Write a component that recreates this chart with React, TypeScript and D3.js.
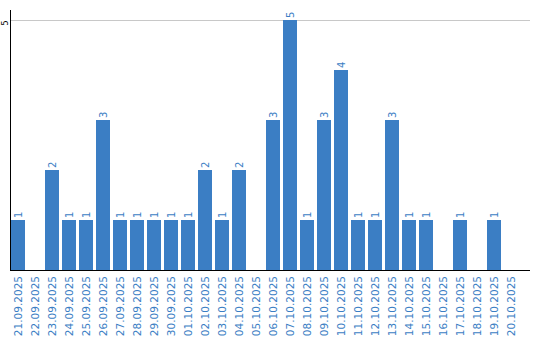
import React from "react";
import * as d3 from "d3";

const dates = [
  "21.09.2025","22.09.2025","23.09.2025","24.09.2025","25.09.2025","26.09.2025",
  "27.09.2025","28.09.2025","29.09.2025","30.09.2025","01.10.2025","02.10.2025",
  "03.10.2025","04.10.2025","05.10.2025","06.10.2025","07.10.2025","08.10.2025",
  "09.10.2025","10.10.2025","11.10.2025","12.10.2025","13.10.2025","14.10.2025",
  "15.10.2025","16.10.2025","17.10.2025","18.10.2025","19.10.2025","20.10.2025",
];
const counts = [1,0,2,1,1,3,1,1,1,1,1,2,1,2,0,3,5,1,3,4,1,1,3,1,1,0,1,0,1,0];
const yTicks = [5];

const W = 540, H = 340;
const left = 11, baseY = 270, topY = 20;
const blue = "#3b7ec4";
const font = "'DejaVu Sans', Verdana, sans-serif";

export default function App() {
  const x = d3.scaleBand<string>().domain(dates).range([left, left + 30 * 17 - 3]).paddingInner(3 / 17).paddingOuter(0);
  const y = d3.scaleLinear().domain([0, 5]).range([baseY, topY]);
  return (
    <svg width={W} height={H} style={{ position: "absolute", left: 0, top: 0 }}>
      {yTicks.map((t) => (
        <g key={t}>
          <line x1={left} x2={530} y1={y(t) + 0.5} y2={y(t) + 0.5} stroke="#c8c8c8" strokeWidth={1} shapeRendering="crispEdges" />
          <text transform={`translate(7.5,${y(t) + 0.5}) rotate(-90)`} textAnchor="end" fontSize={8} fontFamily={font} fill="#000">{t}</text>
        </g>
      ))}
      {dates.map((d, i) => {
        const v = counts[i];
        const bx = x(d)!;
        const cx = bx + x.bandwidth() / 2;
        return (
          <g key={d}>
            {v > 0 && <rect x={bx} y={y(v)} width={x.bandwidth()} height={baseY - y(v)} fill={blue} shapeRendering="crispEdges" />}
            {v > 0 && (
              <text transform={`translate(${cx + 3.5},${y(v) - 2}) rotate(-90)`} textAnchor="start" fontSize={10} fontFamily={font} fill={blue}>{v}</text>
            )}
            <text transform={`translate(${cx + 4},276) rotate(-90)`} textAnchor="end" fontSize={10.5} fontFamily={font} fill={blue}>{d}</text>
          </g>
        );
      })}
      <line x1={left - 0.5} x2={left - 0.5} y1={10} y2={baseY + 1} stroke="#000" strokeWidth={1.5} shapeRendering="crispEdges" />
      <line x1={left - 1} x2={530} y1={baseY + 0.5} y2={baseY + 0.5} stroke="#000" strokeWidth={1.5} shapeRendering="crispEdges" />
    </svg>
  );
}
